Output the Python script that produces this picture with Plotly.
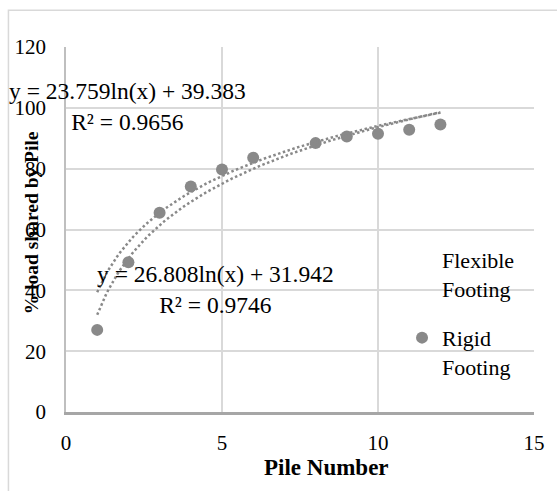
import numpy as np
import plotly.graph_objects as go

# Data
pile_number = [1, 2, 3, 4, 5, 6, 8, 9, 10, 11, 12]
rigid_load = [27.0, 49.2, 65.5, 74.1, 79.7, 83.6, 88.4, 90.6, 91.5, 92.8, 94.5]

# Logarithmic trendline coefficients shown on the chart
flex_a, flex_b, flex_r2 = 23.759, 39.383, 0.9656
rigid_a, rigid_b, rigid_r2 = 26.808, 31.942, 0.9746
trend_x = np.linspace(1, 12, 120)

x_ticks = [0, 5, 10, 15]
y_ticks = [0, 20, 40, 60, 80, 100, 120]

FONT = "Liberation Serif"
GREY = "#898989"

fig = go.Figure()

# Flexible footing series (no visible markers)
fig.add_trace(go.Scatter(
    x=[None], y=[None], mode="markers", name="Flexible<br>Footing",
    marker=dict(size=11, color="rgba(0,0,0,0)"), legendgroup="a",
))
fig.add_trace(go.Scatter(
    x=pile_number, y=rigid_load, mode="markers", name="Rigid<br>Footing",
    marker=dict(size=12, color=GREY), legendgroup="b",
))
# Trendlines
fig.add_trace(go.Scatter(
    x=trend_x, y=flex_a * np.log(trend_x) + flex_b, mode="lines",
    line=dict(color=GREY, width=2.5, dash="2.5px,2.5px"), showlegend=False,
    hoverinfo="skip",
))
fig.add_trace(go.Scatter(
    x=trend_x, y=rigid_a * np.log(trend_x) + rigid_b, mode="lines",
    line=dict(color=GREY, width=2.5, dash="2.5px,2.5px"), showlegend=False,
    hoverinfo="skip",
))

fig.add_annotation(
    x=1.97, y=100.3, xref="x", yref="y", showarrow=False,
    text=f"y = {flex_a}ln(x) + {flex_b}<br>R² = {flex_r2}",
    font=dict(family=FONT, size=23.5, color="#000"), align="center",
    xanchor="center", yanchor="middle",
)
fig.add_annotation(
    x=4.78, y=40.3, xref="x", yref="y", showarrow=False,
    text=f"y = {rigid_a}ln(x) + {rigid_b}<br>R² = {rigid_r2}",
    font=dict(family=FONT, size=23.5, color="#000"), align="center",
    xanchor="center", yanchor="middle",
)

# Axis titles
fig.add_annotation(
    x=0.556, y=-0.153, xref="paper", yref="paper", showarrow=False,
    text="<b>Pile Number</b>", font=dict(family=FONT, size=23, color="#000"),
    xanchor="center", yanchor="middle",
)
fig.add_annotation(
    x=-0.072, y=0.518, xref="paper", yref="paper", showarrow=False,
    text="<b>% load shared by Pile</b>", textangle=-90,
    font=dict(family=FONT, size=19.5, color="#000"),
    xanchor="center", yanchor="middle",
)

# Chart-area border
fig.add_shape(type="rect", xref="paper", yref="paper",
              x0=-0.123, y0=-0.4, x1=1.2, y1=1.101,
              line=dict(color="#d9d9d9", width=1.5), layer="below")

fig.update_layout(
    width=557, height=491,
    margin=dict(l=66, r=20, t=47, b=79),
    paper_bgcolor="white", plot_bgcolor="white",
    font=dict(family=FONT, size=21, color="#000"),
    showlegend=True,
    legend=dict(
        x=0.718, y=0.475, xanchor="left", yanchor="top",
        bgcolor="rgba(0,0,0,0)", font=dict(family=FONT, size=22, color="#000"),
        valign="top", itemwidth=30, tracegroupgap=18, traceorder="grouped",
    ),
    xaxis=dict(
        range=[0, 15], tickvals=x_ticks, showgrid=True, gridcolor="#d9d9d9",
        gridwidth=1.5, zeroline=False, showline=True, linecolor="#a6a6a6",
        linewidth=2.5, ticks="outside", ticklen=10, tickcolor="rgba(0,0,0,0)",
    ),
    yaxis=dict(
        range=[0, 120], tickvals=y_ticks, showgrid=True, gridcolor="#d9d9d9",
        gridwidth=1.5, zeroline=False, showline=True, linecolor="#bfbfbf",
        linewidth=1.5, ticks="outside", ticklen=14, tickcolor="rgba(0,0,0,0)",
    ),
)

fig.write_html("out.html")
